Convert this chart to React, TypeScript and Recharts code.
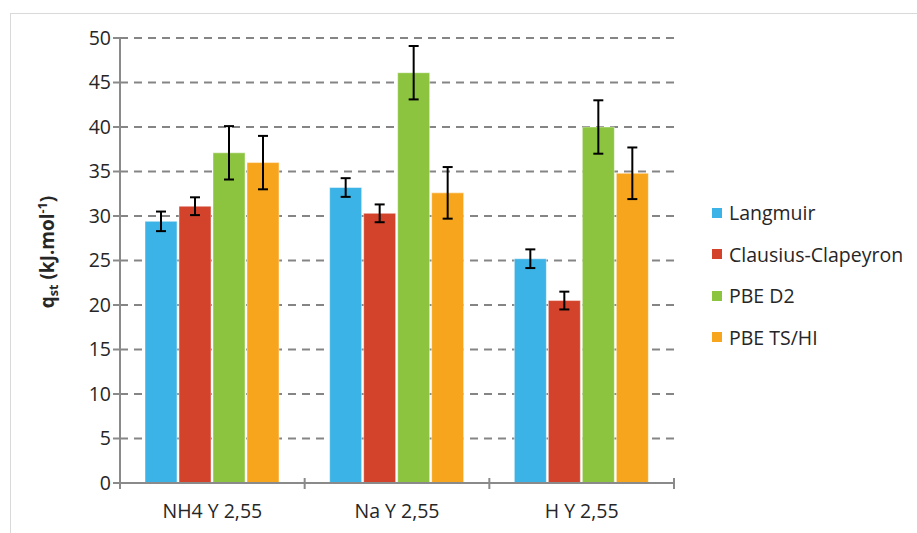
import React from "react";
import { BarChart, Bar, XAxis, YAxis, CartesianGrid, ErrorBar, Legend } from "recharts";

const categories = ["NH4 Y 2,55", "Na Y 2,55", "H Y 2,55"];
const seriesNames = ["Langmuir", "Clausius-Clapeyron", "PBE D2", "PBE TS/HI"];
const seriesColors = ["#3cb3e6", "#d3432b", "#8cc43f", "#f7a51c"];
const langmuir = [29.4, 33.2, 25.2];
const langmuirErr = [1.1, 1.05, 1.05];
const clausius = [31.1, 30.3, 20.5];
const clausiusErr = [1.0, 1.0, 1.0];
const pbeD2 = [37.1, 46.1, 40.0];
const pbeD2Err = [3.0, 3.0, 3.0];
const pbeTS = [36.0, 32.6, 34.8];
const pbeTSErr = [3.0, 2.9, 2.9];
const yTicks = [0, 5, 10, 15, 20, 25, 30, 35, 40, 45, 50];

const values = [langmuir, clausius, pbeD2, pbeTS];
const errors = [langmuirErr, clausiusErr, pbeD2Err, pbeTSErr];

const data = categories.map((c, i) => {
  const row: any = { name: c };
  values.forEach((v, s) => {
    row["s" + s] = v[i];
    row["e" + s] = errors[s][i];
  });
  return row;
});

const FONT = "'Open Sans', sans-serif";
const AXIS = "#8a8a8a";
const TEXT = "#262626";

const XTick = (props: any) => {
  const { x, y, payload, index, width } = props;
  const band = width / categories.length;
  const left = x - band / 2;
  const right = x + band / 2;
  return (
    <g>
      <line x1={left} y1={y - 13} x2={left} y2={y - 2} stroke={AXIS} strokeWidth={2} />
      {index === categories.length - 1 && (
        <line x1={right} y1={y - 13} x2={right} y2={y - 2} stroke={AXIS} strokeWidth={2} />
      )}
      <text x={x} y={y + 27} textAnchor="middle" fontFamily={FONT} fontSize={19.5} fill={TEXT}>
        {payload.value}
      </text>
    </g>
  );
};

const YLabel = () => (
  <text
    transform="translate(54,252) rotate(-90)"
    textAnchor="middle"
    fontFamily={FONT}
    fontSize={19}
    fontWeight="bold"
    fill={TEXT}
  >
    <tspan>q</tspan>
    <tspan fontSize={12.5} dy={4}>st</tspan>
    <tspan dy={-4}> (kJ.mol</tspan>
    <tspan fontSize={12.5} dy={-7}>-1</tspan>
    <tspan dy={7}>)</tspan>
  </text>
);

const LegendContent = () => (
  <div style={{ fontFamily: FONT, fontSize: 19.5, color: TEXT }}>
    {seriesNames.map((n, i) => (
      <div key={n} style={{ display: "flex", alignItems: "center", height: 41.5 }}>
        <div style={{ width: 10, height: 10, background: seriesColors[i], marginRight: 7 }} />
        <span>{n}</span>
      </div>
    ))}
  </div>
);

export default function App() {
  return (
    <div style={{ position: "fixed", left: 0, top: 0, width: 917, height: 533, overflow: "hidden", background: "#fff" }}>
      <div style={{ position: "absolute", left: 10, top: 13, width: 920, height: 540, border: "1px solid #d9d9d9" }} />
      <div style={{ position: "absolute", left: 0, top: 0 }}>
        <BarChart
          width={917}
          height={533}
          data={data}
          margin={{ top: 38, right: 243, bottom: 10, left: 60 }}
          barCategoryGap={25}
          barGap={2}
        >
          <CartesianGrid vertical={false} stroke="#858585" strokeDasharray="8 6" strokeWidth={2} />
          <XAxis
            dataKey="name"
            height={40}
            axisLine={{ stroke: AXIS, strokeWidth: 2 }}
            tickLine={false}
            tick={<XTick />}
            interval={0}
          />
          <YAxis
            width={60}
            domain={[0, 50]}
            ticks={yTicks}
            interval={0}
            axisLine={{ stroke: AXIS, strokeWidth: 2 }}
            tickLine={{ stroke: AXIS, strokeWidth: 2 }}
            tickSize={7}
            tick={{ fontFamily: FONT, fontSize: 19.5, fill: TEXT }}
            label={<YLabel />}
          />
          <Legend
            layout="horizontal"
            verticalAlign="middle"
            align="center"
            wrapperStyle={{ position: "absolute", left: 712, top: 192, width: 200 }}
            content={<LegendContent />}
          />
          {seriesNames.map((n, i) => (
            <Bar
              key={n}
              dataKey={"s" + i}
              name={n}
              fill={seriesColors[i]}
              stroke="#ffffff"
              strokeOpacity={0.45}
              strokeWidth={1}
              isAnimationActive={false}
            >
              <ErrorBar dataKey={"e" + i} width={5} stroke="#000" strokeWidth={2} direction="y" />
            </Bar>
          ))}
        </BarChart>
      </div>
    </div>
  );
}
